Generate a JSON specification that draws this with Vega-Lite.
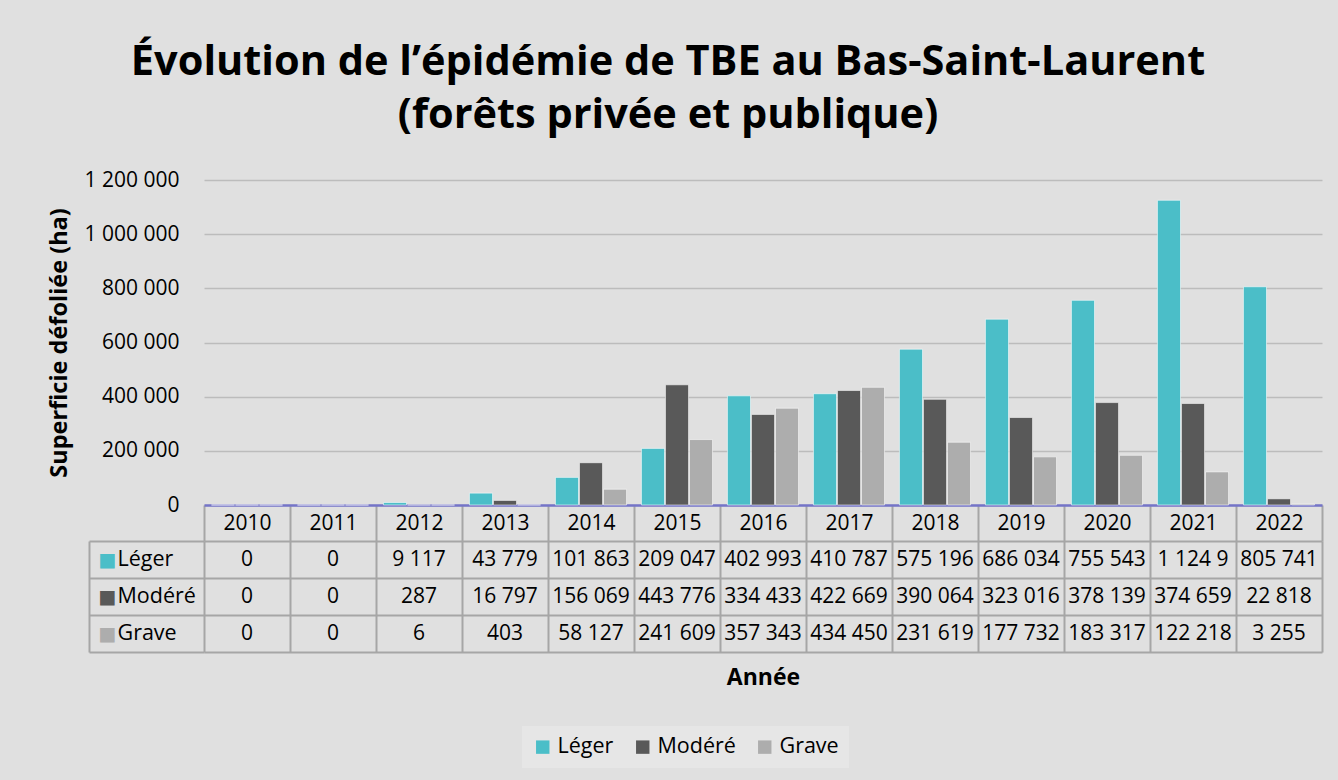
{
  "$schema": "https://vega.github.io/schema/vega-lite/v6.json",
  "background": "#e0e0e0",
  "padding": {"left": 47, "top": 41, "right": 15, "bottom": 14},
  "config": {
    "font": "Open Sans",
    "locale": {"number": {"decimal": ",", "thousands": " ", "grouping": [3], "currency": ["", " $"]}},
    "view": {"stroke": null},
    "axis": {"labelFont": "Open Sans", "titleFont": "Open Sans", "labelColor": "#000000", "titleColor": "#000000"}
  },
  "title": {
    "text": ["Évolution de l’épidémie de TBE au Bas-Saint-Laurent", "(forêts privée et publique)"],
    "fontSize": 41.5,
    "fontWeight": "bold",
    "font": "Open Sans",
    "color": "#000000",
    "anchor": "middle",
    "lineHeight": 53,
    "offset": 33,
    "dx": -17
  },
  "datasets": {
    "tbe": [
      {"annee": "2010", "serie": "Léger", "valeur": 0},
      {"annee": "2011", "serie": "Léger", "valeur": 0},
      {"annee": "2012", "serie": "Léger", "valeur": 9117},
      {"annee": "2013", "serie": "Léger", "valeur": 43779},
      {"annee": "2014", "serie": "Léger", "valeur": 101863},
      {"annee": "2015", "serie": "Léger", "valeur": 209047},
      {"annee": "2016", "serie": "Léger", "valeur": 402993},
      {"annee": "2017", "serie": "Léger", "valeur": 410787},
      {"annee": "2018", "serie": "Léger", "valeur": 575196},
      {"annee": "2019", "serie": "Léger", "valeur": 686034},
      {"annee": "2020", "serie": "Léger", "valeur": 755543},
      {"annee": "2021", "serie": "Léger", "valeur": 1124950},
      {"annee": "2022", "serie": "Léger", "valeur": 805741},
      {"annee": "2010", "serie": "Modéré", "valeur": 0},
      {"annee": "2011", "serie": "Modéré", "valeur": 0},
      {"annee": "2012", "serie": "Modéré", "valeur": 287},
      {"annee": "2013", "serie": "Modéré", "valeur": 16797},
      {"annee": "2014", "serie": "Modéré", "valeur": 156069},
      {"annee": "2015", "serie": "Modéré", "valeur": 443776},
      {"annee": "2016", "serie": "Modéré", "valeur": 334433},
      {"annee": "2017", "serie": "Modéré", "valeur": 422669},
      {"annee": "2018", "serie": "Modéré", "valeur": 390064},
      {"annee": "2019", "serie": "Modéré", "valeur": 323016},
      {"annee": "2020", "serie": "Modéré", "valeur": 378139},
      {"annee": "2021", "serie": "Modéré", "valeur": 374659},
      {"annee": "2022", "serie": "Modéré", "valeur": 22818},
      {"annee": "2010", "serie": "Grave", "valeur": 0},
      {"annee": "2011", "serie": "Grave", "valeur": 0},
      {"annee": "2012", "serie": "Grave", "valeur": 6},
      {"annee": "2013", "serie": "Grave", "valeur": 403},
      {"annee": "2014", "serie": "Grave", "valeur": 58127},
      {"annee": "2015", "serie": "Grave", "valeur": 241609},
      {"annee": "2016", "serie": "Grave", "valeur": 357343},
      {"annee": "2017", "serie": "Grave", "valeur": 434450},
      {"annee": "2018", "serie": "Grave", "valeur": 231619},
      {"annee": "2019", "serie": "Grave", "valeur": 177732},
      {"annee": "2020", "serie": "Grave", "valeur": 183317},
      {"annee": "2021", "serie": "Grave", "valeur": 122218},
      {"annee": "2022", "serie": "Grave", "valeur": 3255}
    ]
  },
  "bounds": "flush",
  "spacing": 36,
  "vconcat": [
    {
      "width": 1118,
      "height": 325,
      "data": {"name": "tbe"},
      "mark": {"type": "bar", "stroke": "#ffffff", "strokeOpacity": 0.55, "strokeWidth": 1},
      "encoding": {
        "x": {
          "field": "annee", "type": "ordinal",
          "scale": {"paddingInner": 0, "paddingOuter": 0},
          "axis": {
            "title": null, "labelAngle": 0, "labelFontSize": 21, "labelBaseline": "middle", "labelPadding": -18,
            "tickBand": "extent", "tickSize": 36, "tickColor": "#a6a6a6", "tickWidth": 2,
            "domainColor": "#7474c8", "domainWidth": 2.5
          }
        },
        "xOffset": {
          "field": "serie", "type": "nominal", "sort": ["Léger", "Modéré", "Grave"],
          "scale": {"paddingInner": 0.04, "paddingOuter": 0.31}
        },
        "y": {
          "field": "valeur", "type": "quantitative",
          "scale": {"domain": [0, 1200000]},
          "axis": {
            "values": [0, 200000, 400000, 600000, 800000, 1000000, 1200000],
            "format": ",d", "title": "Superficie défoliée (ha)", "titleFontSize": 23.5, "titleFontWeight": "bold",
            "titlePadding": 13, "labelFontSize": 21, "labelPadding": 25,
            "grid": true, "gridColor": "#bcbcbc", "gridWidth": 1.5, "domain": false, "ticks": false
          }
        },
        "color": {
          "field": "serie", "type": "nominal", "sort": ["Léger", "Modéré", "Grave"],
          "scale": {"domain": ["Léger", "Modéré", "Grave"], "range": ["#4bbec8", "#595959", "#adadad"]},
          "legend": {
            "orient": "none", "legendX": 318, "legendY": 546, "direction": "horizontal", "title": null,
            "symbolType": "square", "symbolSize": 180, "symbolStrokeWidth": 0,
            "labelFontSize": 21.5, "labelColor": "#000000", "labelOffset": 4, "columnPadding": 18,
            "padding": 10, "fillColor": "#e6e6e6"
          }
        }
      }
    },
    {
      "width": 1118,
      "height": 111,
      "data": {"name": "tbe"},
      "layer": [
        {
          "mark": {"type": "text", "fontSize": 21, "color": "#000000", "limit": 80, "ellipsis": "\u200b", "font": "Open Sans"},
          "encoding": {
            "x": {
              "field": "annee", "type": "ordinal",
              "scale": {"paddingInner": 0, "paddingOuter": 0},
              "axis": {
                "orient": "bottom", "labels": false, "ticks": false, "domain": false,
                "grid": true, "tickBand": "extent", "gridColor": "#a6a6a6", "gridWidth": 2,
                "title": "Année", "titleFontSize": 23, "titleFontWeight": "bold", "titlePadding": 14
              }
            },
            "y": {
              "field": "serie", "type": "nominal", "sort": ["Léger", "Modéré", "Grave"],
              "scale": {"paddingInner": 0, "paddingOuter": 0},
              "axis": {
                "title": null, "orient": "left", "offset": 115,
                "domain": true, "domainColor": "#a6a6a6", "domainWidth": 2,
                "ticks": true, "tickSize": -115, "tickBand": "extent", "tickColor": "#a6a6a6", "tickWidth": 2,
                "grid": true, "gridColor": "#a6a6a6", "gridWidth": 2,
                "labelAlign": "left", "labelPadding": 87, "labelFontSize": 21.5
              }
            },
            "text": {"field": "valeur", "type": "quantitative", "format": ",d"}
          }
        },
        {
          "mark": {"type": "text", "opacity": 0},
          "encoding": {
            "x": {"field": "annee", "type": "ordinal"},
            "y": {
              "field": "serie", "type": "nominal", "sort": ["Léger", "Modéré", "Grave"],
              "axis": {
                "title": null, "orient": "left", "offset": 115,
                "domain": false, "grid": false,
                "ticks": true, "tickSize": -115, "tickOpacity": 0,
                "labelExpr": "'■'", "labelAlign": "left", "labelPadding": 106, "labelFontSize": 19,
                "labelFont": "DejaVu Sans",
                "labelColor": {
                  "condition": [
                    {"test": "datum.value === 'Léger'", "value": "#4bbec8"},
                    {"test": "datum.value === 'Modéré'", "value": "#595959"}
                  ],
                  "value": "#adadad"
                }
              }
            },
            "text": {"field": "valeur", "type": "quantitative"}
          }
        }
      ],
      "resolve": {"axis": {"y": "independent"}}
    }
  ]
}
